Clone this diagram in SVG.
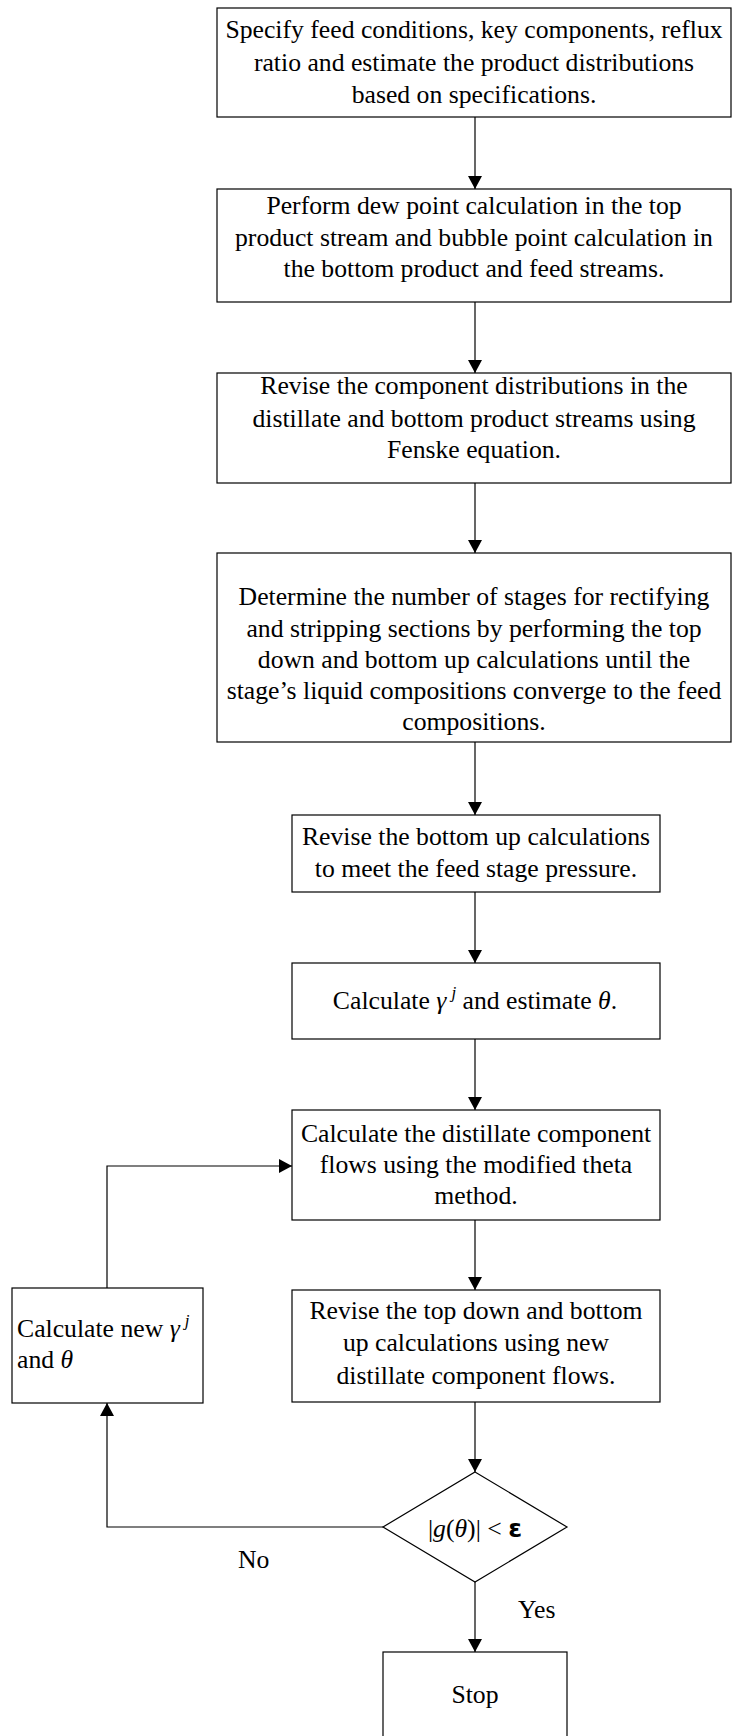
<svg xmlns="http://www.w3.org/2000/svg" width="734" height="1736" viewBox="0 0 734 1736">
  <style>
    .box { fill: #fff; stroke: #000; stroke-width: 1.2; }
    .lbl { font-family: "Liberation Serif", "Times New Roman", serif; font-size: 25.7px; fill: #000; text-anchor: middle; }
    .left { text-anchor: start; }
    .it { font-style: italic; }
    .sup { font-style: italic; font-size: 17px; }
    .wire { fill: none; stroke: #000; stroke-width: 1.2; }
  </style>
  <defs>
    <marker id="arrow" markerUnits="userSpaceOnUse" markerWidth="14" markerHeight="14" refX="13" refY="7" orient="auto">
      <path d="M0,0 L13,7 L0,14 z" fill="#000"/>
    </marker>
  </defs>
  <rect width="734" height="1736" fill="#fff"/>

  <!-- connectors -->
  <g id="connectors" class="wire" marker-end="url(#arrow)">
    <line x1="475" y1="117" x2="475" y2="189"/>
    <line x1="475" y1="302" x2="475" y2="373"/>
    <line x1="475" y1="483" x2="475" y2="553"/>
    <line x1="475" y1="742" x2="475" y2="815"/>
    <line x1="475" y1="892" x2="475" y2="963"/>
    <line x1="475" y1="1039" x2="475" y2="1110"/>
    <line x1="475" y1="1220" x2="475" y2="1290"/>
    <line x1="475" y1="1402" x2="475" y2="1472"/>
    <line x1="475" y1="1582" x2="475" y2="1652"/>
    <polyline points="383,1527 107,1527 107,1403"/>
    <polyline points="107,1288 107,1166 292,1166"/>
  </g>

  <!-- step 1 -->
  <g id="specify">
    <rect class="box" x="217" y="8" width="514" height="109"/>
    <text class="lbl" x="474" y="38">Specify feed conditions, key components, reflux</text>
    <text class="lbl" x="474" y="71">ratio and estimate the product distributions</text>
    <text class="lbl" x="474" y="103">based on specifications.</text>
  </g>

  <!-- step 2 -->
  <g id="dew-bubble">
    <rect class="box" x="217" y="189" width="514" height="113"/>
    <text class="lbl" x="474" y="214">Perform dew point calculation in the top</text>
    <text class="lbl" x="474" y="246">product stream and bubble point calculation in</text>
    <text class="lbl" x="474" y="277">the bottom product and feed streams.</text>
  </g>

  <!-- step 3 -->
  <g id="fenske">
    <rect class="box" x="217" y="373" width="514" height="110"/>
    <text class="lbl" x="474" y="394">Revise the component distributions in the</text>
    <text class="lbl" x="474" y="427">distillate and bottom product streams using</text>
    <text class="lbl" x="474" y="458">Fenske equation.</text>
  </g>

  <!-- step 4 -->
  <g id="stages">
    <rect class="box" x="217" y="553" width="514" height="189"/>
    <text class="lbl" x="474" y="605">Determine the number of stages for rectifying</text>
    <text class="lbl" x="474" y="637">and stripping sections by performing the top</text>
    <text class="lbl" x="474" y="668">down and bottom up calculations until the</text>
    <text class="lbl" x="474" y="699">stage’s liquid compositions converge to the feed</text>
    <text class="lbl" x="474" y="730">compositions.</text>
  </g>

  <!-- step 5 -->
  <g id="feed-pressure">
    <rect class="box" x="292" y="815" width="368" height="77"/>
    <text class="lbl" x="476" y="845">Revise the bottom up calculations</text>
    <text class="lbl" x="476" y="877">to meet the feed stage pressure.</text>
  </g>

  <!-- step 6 -->
  <g id="estimate-theta">
    <rect class="box" x="292" y="963" width="368" height="76"/>
    <text class="lbl" x="475" y="1009">Calculate <tspan class="it">γ</tspan><tspan class="sup" dx="5" dy="-11">j</tspan><tspan dy="11"> and estimate </tspan><tspan class="it">θ</tspan>.</text>
  </g>

  <!-- step 7 -->
  <g id="theta-method">
    <rect class="box" x="292" y="1110" width="368" height="110"/>
    <text class="lbl" x="476" y="1142">Calculate the distillate component</text>
    <text class="lbl" x="476" y="1173">flows using the modified theta</text>
    <text class="lbl" x="476" y="1204">method.</text>
  </g>

  <!-- step 8 -->
  <g id="revise-flows">
    <rect class="box" x="292" y="1290" width="368" height="112"/>
    <text class="lbl" x="476" y="1319">Revise the top down and bottom</text>
    <text class="lbl" x="476" y="1351">up calculations using new</text>
    <text class="lbl" x="476" y="1384">distillate component flows.</text>
  </g>

  <!-- feedback update -->
  <g id="new-theta">
    <rect class="box" x="12" y="1288" width="191" height="115"/>
    <text class="lbl left" x="17" y="1337">Calculate new <tspan class="it">γ</tspan><tspan class="sup" dx="5" dy="-11">j</tspan></text>
    <text class="lbl left" x="17" y="1368">and <tspan class="it">θ</tspan></text>
  </g>

  <!-- convergence test -->
  <g id="convergence">
    <polygon class="box" points="475,1472 567,1527 475,1582 383,1527"/>
    <text class="lbl" x="475" y="1537">|<tspan class="it">g</tspan>(<tspan class="it">θ</tspan>)| &lt; <tspan font-family="'DejaVu Sans', sans-serif" font-weight="bold" font-size="25px">ε</tspan></text>
  </g>

  <!-- branch labels -->
  <g id="labels">
    <text class="lbl left" x="238" y="1568">No</text>
    <text class="lbl left" x="518" y="1618">Yes</text>
  </g>

  <!-- end -->
  <g id="stop">
    <rect class="box" x="383" y="1652" width="184" height="90"/>
    <text class="lbl" x="475" y="1703">Stop</text>
  </g>
</svg>
